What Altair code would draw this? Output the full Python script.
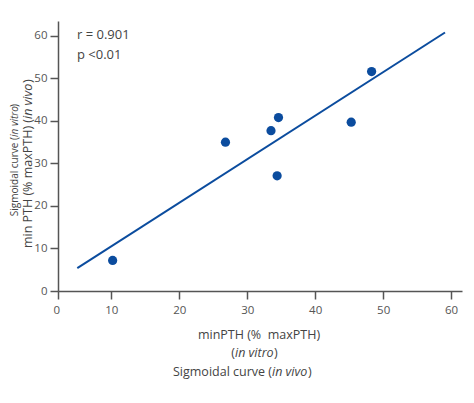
import pandas as pd
import altair as alt

# values
x_vitro = [10.2, 26.8, 33.5, 34.6, 34.4, 45.3, 48.3]
y_vivo = [7.2, 35.0, 37.7, 40.8, 27.1, 39.7, 51.6]
fit_x = [5.0, 59.1]
fit_y = [5.4, 60.8]
x_ticks = [2.16, 10, 20, 30, 40, 50, 60]
y_ticks = [0, 5, 10, 15, 20, 25, 30, 35, 40, 45, 50, 55, 60]
stats = ["r = 0.901", "p <0.01"]

BLUE = "#0b4c9e"
GREY = "#444444"
FONT = "Open Sans"

points = pd.DataFrame({"x": x_vitro, "y": y_vivo})
fit = pd.DataFrame({"x": fit_x, "y": fit_y})

xscale = alt.Scale(domain=[2.16, 61.6], nice=False, zero=False)
yscale = alt.Scale(domain=[0, 63.5], nice=False)

xaxis = alt.Axis(
    values=x_ticks, title=None, grid=False,
    labelExpr="datum.value < 5 ? '0' : datum.label",
    labelOffset={"condition": {"test": "datum.value < 5", "value": -5}, "value": 0},
    domainColor="#555555", domainWidth=1.5, tickColor="#555555", tickWidth=1.5,
    tickSize=8, labelPadding=5, labelFontSize=11.5, labelColor="#555555",
    labelFont=FONT,
)
yaxis = alt.Axis(
    values=y_ticks, title=None, grid=False,
    labelExpr="datum.value % 10 == 0 ? datum.label : ''",
    tickSize={"condition": {"test": "datum.value % 10 != 0", "value": 6}, "value": 8},
    domainColor="#555555", domainWidth=1.5, tickColor="#555555", tickWidth=1.5,
    labelPadding=3, labelFontSize=11.5, labelColor="#555555", labelFont=FONT,
)

dots = alt.Chart(points).mark_circle(size=85, color=BLUE, opacity=1).encode(
    x=alt.X("x:Q", scale=xscale, axis=xaxis),
    y=alt.Y("y:Q", scale=yscale, axis=yaxis),
)

line = alt.Chart(fit).mark_line(color=BLUE, strokeWidth=2).encode(
    x=alt.X("x:Q", scale=xscale),
    y=alt.Y("y:Q", scale=yscale),
)


def label(text, x, y, size=12.5, italic=False, angle=0, align="left"):
    return alt.Chart(pd.DataFrame({"t": [text]})).mark_text(
        font=FONT, fontSize=size, color=GREY, align=align, baseline="middle",
        angle=angle, fontStyle="italic" if italic else "normal",
    ).encode(x=alt.value(x), y=alt.value(y), text="t:N")


texts = [
    label(stats[0], 19, 14, size=13),
    label(stats[1], 19, 34, size=13),
    # x title
    label("minPTH (%\u00a0 maxPTH)", 201, 314, align="center"),
    label("(", 177, 332, align="right"),
    label("in vitro", 177, 332, italic=True),
    label(")", 216, 332),
    label("Sigmoidal curve (", 214, 351, align="right"),
    label("in vivo", 214, 351, italic=True),
    label(")", 250, 351),
    # y title, inner line
    label("min PTH (% maxPTH) (", -30.5, 98, angle=270, align="right"),
    label("in vivo", -30.5, 98, italic=True, angle=270),
    label(")", -30.5, 62, angle=270),
    # y title, outer line
    label("Sigmoidal curve (", -43, 116, size=10, angle=270, align="right"),
    label("in vitro", -43, 116, size=10, italic=True, angle=270),
    label(")", -43, 86, size=10, angle=270),
]

chart = alt.layer(line, dots, *texts).properties(
    width=404,
    height=270,
    autosize=alt.AutoSizeParams(type="none"),
    padding={"left": 50, "top": 13, "right": 4, "bottom": 104},
).configure_view(stroke=None)

chart.save("out.html", embed_options={"renderer": "svg", "actions": False})
